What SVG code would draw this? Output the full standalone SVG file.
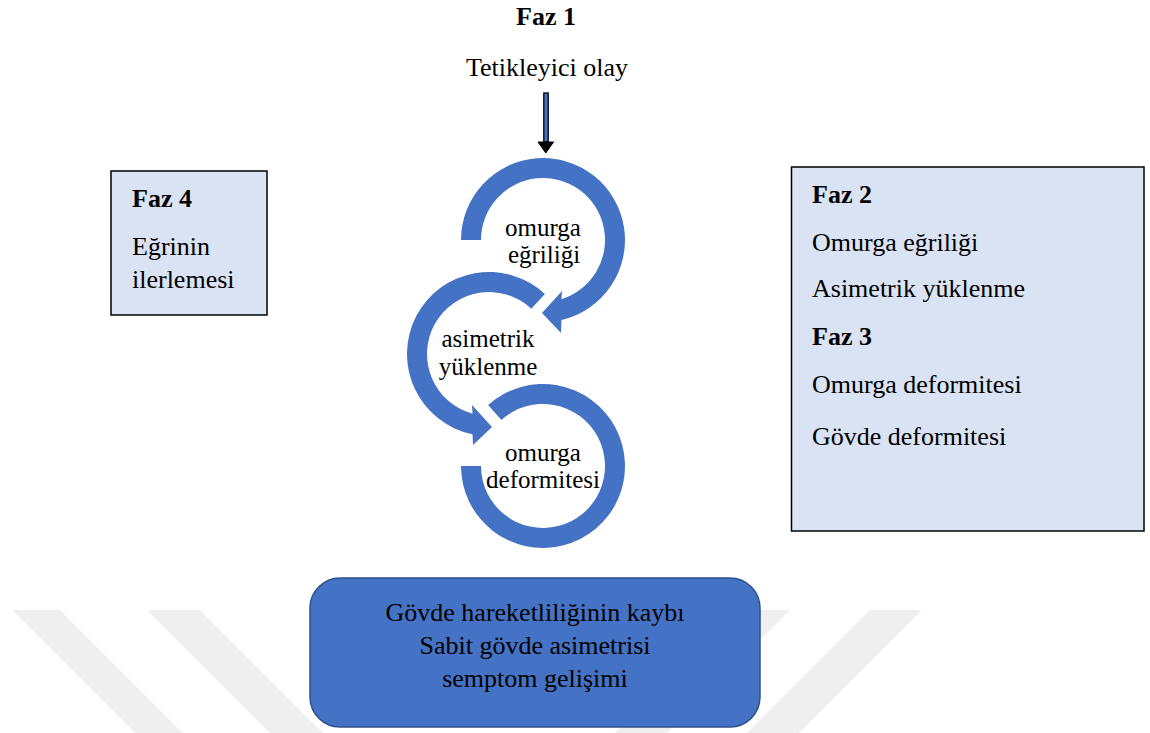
<svg xmlns="http://www.w3.org/2000/svg" width="1150" height="733" viewBox="0 0 1150 733">
<style>
  text { font-family: "Liberation Serif", "Times New Roman", serif; font-size: 26px; fill: #000; }
  .b { font-weight: bold; }
  .c { text-anchor: middle; }
  .lbl { font-size: 25px; }
  .wm { fill: #efefef; }
  .box { fill: #dae3f3; stroke: #000; stroke-width: 1.5; }
  .ring { fill: #4472c4; }
  .bottom { fill: #4472c4; stroke: #2f528f; stroke-width: 1.5; }
</style>
<rect width="1150" height="733" fill="#fff"/>
<g id="watermark">
  <polygon class="wm" points="12,610 60,610 183,733 135,733"/>
  <polygon class="wm" points="147,610 200,610 323,733 270,733"/>
  <polygon class="wm" points="738,610 790,610 667,733 615,733"/>
  <polygon class="wm" points="870,610 922,610 799,733 747,733"/>
</g>
<g id="phase1">
  <text class="b c" x="546" y="25" font-size="25">Faz 1</text>
  <text class="c" x="547" y="76">Tetikleyici olay</text>
</g>
<g id="connectors">
  <rect x="543.8" y="93" width="4.4" height="49" fill="#4472c4" stroke="#000" stroke-width="1.3"/>
  <polygon points="538,142 553.5,142 545.8,153" fill="#000" stroke="#000" stroke-width="1"/>
</g>
<g id="cycle1">
  <path class="ring" d="M461,240 A82,82 0 1 1 561.5,319.9 L561,333 L542,313 L562,291 L561.5,299.2 A62,62 0 1 0 481,240 Z"/>
  <text class="c lbl" x="543" y="236">omurga</text>
  <text class="c lbl" x="544" y="263">eğriliği</text>
</g>
<g id="cycle2">
  <path class="ring" d="M544.9,294 A82,82 0 1 0 472.5,434.3 L473,445 L492,427 L472,405 L472.5,413.8 A62,62 0 1 1 531.3,308.7 Z"/>
  <text class="c lbl" x="488" y="347">asimetrik</text>
  <text class="c lbl" x="488" y="375">yüklenme</text>
</g>
<g id="cycle3">
  <path class="ring" d="M488.1,405.1 A82,82 0 1 1 461,466 L481,466 A62,62 0 1 0 501.5,419.9 Z"/>
  <text class="c lbl" x="543" y="461">omurga</text>
  <text class="c lbl" x="543" y="488">deformitesi</text>
</g>
<g id="phase4">
  <rect class="box" x="111" y="171" width="156" height="144"/>
  <text class="b" x="132" y="207">Faz 4</text>
  <text x="132" y="255">Eğrinin</text>
  <text x="132" y="288">ilerlemesi</text>
</g>
<g id="phase23">
  <rect class="box" x="791.5" y="167" width="352.5" height="364"/>
  <text class="b" x="812" y="203">Faz 2</text>
  <text x="812" y="251">Omurga eğriliği</text>
  <text x="812" y="297">Asimetrik yüklenme</text>
  <text class="b" x="812" y="345">Faz 3</text>
  <text x="812" y="393">Omurga deformitesi</text>
  <text x="812" y="445">Gövde deformitesi</text>
</g>
<g id="outcome">
  <rect class="bottom" x="310" y="578" width="450" height="149" rx="30" ry="30"/>
  <text class="c" x="535" y="621">Gövde hareketliliğinin kaybı</text>
  <text class="c" x="535" y="654">Sabit gövde asimetrisi</text>
  <text class="c" x="535" y="687">semptom gelişimi</text>
</g>
</svg>
